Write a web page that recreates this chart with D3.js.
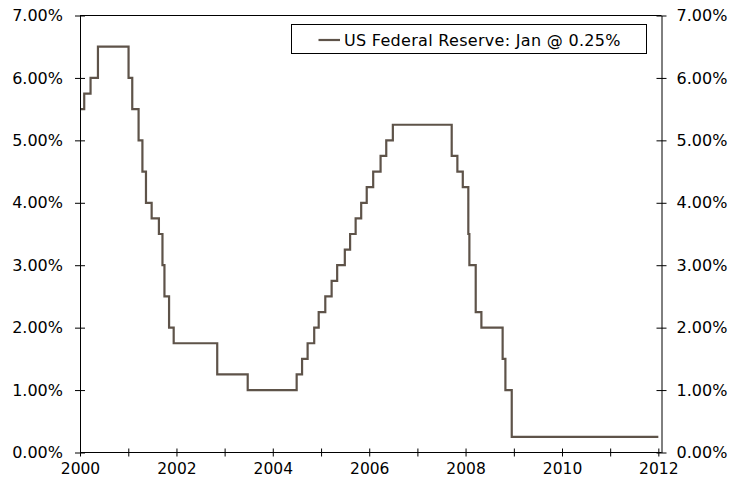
<!DOCTYPE html>
<html>
<head>
<meta charset="utf-8">
<script src="https://cdn.jsdelivr.net/npm/d3@7"></script>
<style>
  html, body { margin: 0; padding: 0; background: #fff; }
  svg { display: block; }
  text { font-family: "DejaVu Sans", Verdana, sans-serif; fill: #000; }
</style>
</head>
<body>
<svg id="chart" width="744" height="487"></svg>
<script>
// Federal funds target rate: effective date of each change and the new rate (%)
const changeDates = [
  "2000-01-01", "2000-02-02", "2000-03-21", "2000-05-16",
  "2001-01-03", "2001-01-31", "2001-03-20", "2001-04-18", "2001-05-15",
  "2001-06-27", "2001-08-21", "2001-09-17", "2001-10-02", "2001-11-06",
  "2001-12-11", "2002-11-06", "2003-06-25", "2004-06-30", "2004-08-10",
  "2004-09-21", "2004-11-10", "2004-12-14", "2005-02-02", "2005-03-22",
  "2005-05-03", "2005-06-30", "2005-08-09", "2005-09-20", "2005-11-01",
  "2005-12-13", "2006-01-31", "2006-03-28", "2006-05-10", "2006-06-29",
  "2007-09-18", "2007-10-31", "2007-12-11", "2008-01-22", "2008-01-30",
  "2008-03-18", "2008-04-30", "2008-10-08", "2008-10-29", "2008-12-16",
  "2012-01-01"
];
const targetRates = [
  5.50, 5.75, 6.00, 6.50,
  6.00, 5.50, 5.00, 4.50, 4.00,
  3.75, 3.50, 3.00, 2.50, 2.00,
  1.75, 1.25, 1.00, 1.25, 1.50,
  1.75, 2.00, 2.25, 2.50, 2.75,
  3.00, 3.25, 3.50, 3.75, 4.00,
  4.25, 4.50, 4.75, 5.00, 5.25,
  4.75, 4.50, 4.25, 3.50, 3.00,
  2.25, 2.00, 1.50, 1.00, 0.25,
  0.25
];
const seriesName = "US Federal Reserve: Jan @ 0.25%";

const yTickValues = [0, 1, 2, 3, 4, 5, 6, 7];
const xTickYears = [2000, 2001, 2002, 2003, 2004, 2005, 2006, 2007, 2008, 2009, 2010, 2011, 2012];
const xLabelYears = [2000, 2002, 2004, 2006, 2008, 2010, 2012];

const parse = d3.timeParse("%Y-%m-%d");
const data = changeDates.map((d, i) => ({ date: parse(d), rate: targetRates[i] }));

const svg = d3.select("#chart");
const plotLeft = 80, plotRight = 661.5, plotTop = 15.5, plotBottom = 452.5;

const x = d3.scaleTime()
  .domain([new Date(2000, 0, 1), new Date(2012, 0, 25)])
  .range([plotLeft, plotRight]);
const y = d3.scaleLinear().domain([0, 7]).range([plotBottom, plotTop]);

const lineColor = "#5e5349";

// top border of plot area
svg.append("line")
  .attr("x1", plotLeft).attr("x2", plotRight)
  .attr("y1", plotTop).attr("y2", plotTop)
  .attr("stroke", "#000").attr("stroke-width", 1);

// rate line
const line = d3.line()
  .x(d => x(d.date))
  .y(d => y(d.rate))
  .curve(d3.curveStepAfter);

svg.append("path")
  .datum(data)
  .attr("fill", "none")
  .attr("stroke", lineColor)
  .attr("stroke-width", 2.2)
  .attr("stroke-linejoin", "miter")
  .attr("d", line);

const pct = d => d3.format(".2f")(d) + "%";

// left axis
const gL = svg.append("g")
  .attr("transform", `translate(${plotLeft},0)`)
  .call(d3.axisLeft(y).tickValues(yTickValues).tickFormat(pct)
    .tickSize(5).tickSizeOuter(0).tickPadding(12));
gL.selectAll(".tick line").attr("x1", 5);

// right axis
const gR = svg.append("g")
  .attr("transform", `translate(${plotRight},0)`)
  .call(d3.axisRight(y).tickValues(yTickValues).tickFormat(pct)
    .tickSize(5).tickSizeOuter(0).tickPadding(10));
gR.selectAll(".tick line").attr("x1", -5);

// bottom axis
const gB = svg.append("g")
  .attr("transform", `translate(0,${plotBottom})`)
  .call(d3.axisBottom(x)
    .tickValues(xTickYears.map(yr => new Date(yr, 0, 1)))
    .tickFormat(d => xLabelYears.includes(d.getFullYear()) ? d.getFullYear() : "")
    .tickSize(4).tickSizeOuter(0).tickPadding(6));
gB.selectAll(".tick line").attr("y1", -4);

[gL, gR].forEach(g => g.selectAll("text").style("font-size", "16px").attr("fill", "#000"));
gB.selectAll("text").style("font-size", "15.5px").attr("fill", "#000");
[gL, gR, gB].forEach(g => g.selectAll("line, path").attr("stroke", "#000"));
gB.select(".domain").attr("d", `M${plotLeft},0H${plotRight}`);

// legend
const legend = svg.append("g");
legend.append("rect")
  .attr("x", 291.5).attr("y", 24.5)
  .attr("width", 355).attr("height", 29)
  .attr("fill", "#fff").attr("stroke", "#000").attr("stroke-width", 1);
legend.append("line")
  .attr("x1", 318.5).attr("x2", 340)
  .attr("y1", 40).attr("y2", 40)
  .attr("stroke", lineColor).attr("stroke-width", 2.2);
legend.append("text")
  .attr("x", 344).attr("y", 40)
  .attr("dy", "0.35em")
  .style("font-size", "16px")
  .style("letter-spacing", "0.3px")
  .text(seriesName);
</script>
</body>
</html>
